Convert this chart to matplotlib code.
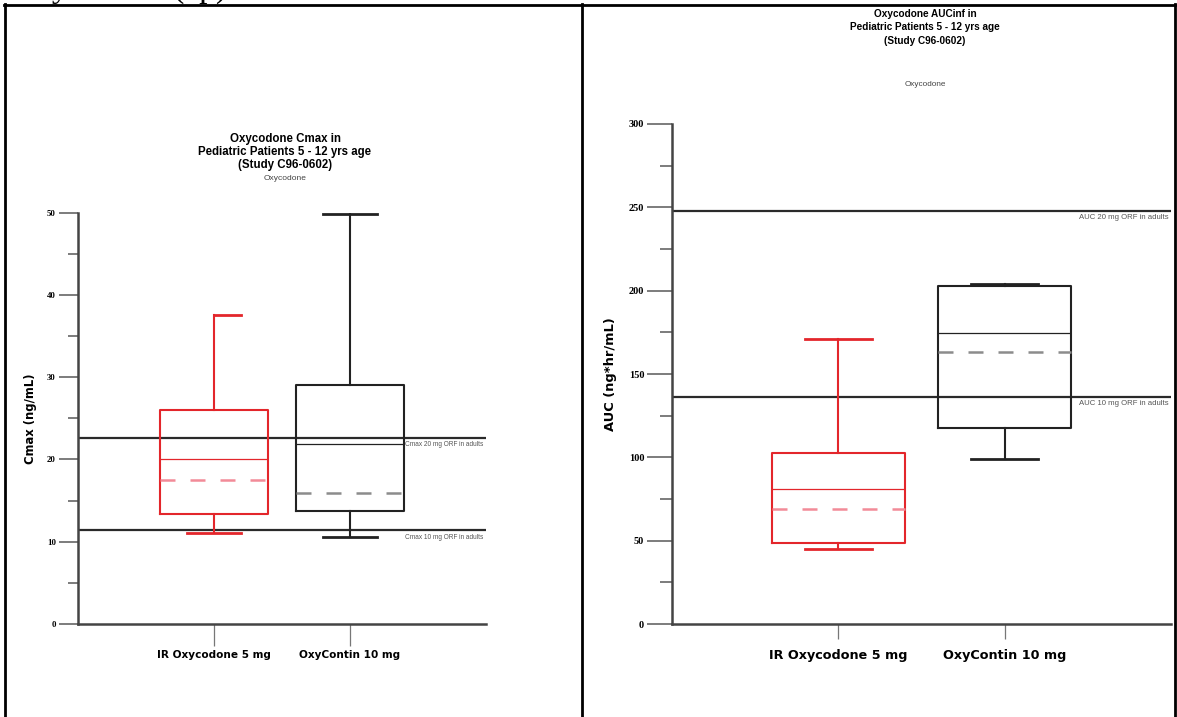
import matplotlib
matplotlib.use('Agg')
import matplotlib.pyplot as plt
from matplotlib.lines import Line2D
from matplotlib.ticker import MultipleLocator

groups = ['IR Oxycodone 5 mg', 'OxyContin 10 mg']
colors = ['#e3262b', '#222222']
mean_colors = ['#f28b98', '#8c8c8c']

# Cmax (ng/mL)
cmax_whislo = [11.0, 10.6]
cmax_q1 = [13.4, 13.7]
cmax_med = [20.1, 21.9]
cmax_mean = [17.5, 15.9]
cmax_q3 = [26.0, 29.0]
cmax_whishi = [37.6, 49.8]
cmax_ref = [22.6, 11.4]
cmax_ref_labels = ['Cmax 20 mg ORF in adults', 'Cmax 10 mg ORF in adults']

# AUCinf (ng*hr/mL)
auc_whislo = [44.8, 98.8]
auc_q1 = [48.8, 117.8]
auc_med = [81.0, 174.5]
auc_mean = [69.0, 163.0]
auc_q3 = [102.4, 203.0]
auc_whishi = [171.0, 203.8]
auc_ref = [247.8, 136.2]
auc_ref_labels = ['AUC 20 mg ORF in adults', 'AUC 10 mg ORF in adults']

W, H = 1177, 717
fig = plt.figure(figsize=(W / 100, H / 100), dpi=100)


def box(x0, y0, x1, y1):
    # pixel box -> figure fraction
    return [x0 / W, 1 - y1 / H, (x1 - x0) / W, (y1 - y0) / H]


def make_stats(lo, q1, med, mean, q3, hi):
    out = []
    for i in range(len(lo)):
        out.append(dict(whislo=lo[i], q1=q1[i], med=med[i], mean=mean[i],
                        q3=q3[i], whishi=hi[i], fliers=[]))
    return out


def panel(ax, stats, ymax, ystep, refs, ref_labels, ylabel, tick_fs, xl_fs,
          yl_fs, ref_fs, lab_x, maj_len, min_len, xt_len, xt_pad):
    bp = ax.bxp(stats, positions=[1, 2], widths=0.8, capwidths=0.4,
                showmeans=True, meanline=True, showfliers=False)
    for i in range(2):
        c = colors[i]
        bp['boxes'][i].set(color=c, linewidth=1.5)
        bp['medians'][i].set(color=c, linewidth=0.9)
        bp['means'][i].set(color=mean_colors[i], linewidth=1.8,
                           linestyle=(0, (6, 6)))
        for w in bp['whiskers'][2 * i:2 * i + 2]:
            w.set(color=c, linewidth=1.5)
        for cp in bp['caps'][2 * i:2 * i + 2]:
            cp.set(color=c, linewidth=2.0)
    for y, lab in zip(refs, ref_labels):
        ax.axhline(y, color='#2a2a2a', linewidth=1.6, zorder=1)
        ax.annotate(lab, xy=(1, y), xycoords=('axes fraction', 'data'),
                    xytext=(-2, -2.5), textcoords='offset points',
                    ha='right', va='top', fontsize=ref_fs, color='#555555',
                    family='Liberation Sans')
    ax.set_xlim(0, 3)
    ax.set_ylim(0, ymax)
    ax.yaxis.set_major_locator(MultipleLocator(ystep))
    ax.yaxis.set_minor_locator(MultipleLocator(ystep / 2))
    ax.set_xticks([1, 2])
    ax.set_xticklabels(groups, fontsize=xl_fs, fontweight='bold',
                       family='DejaVu Sans')
    for t in ax.get_yticklabels():
        t.set_fontsize(tick_fs)
        t.set_fontweight('bold')
        t.set_family('Liberation Serif')
    ax.tick_params(axis='y', which='major', length=maj_len, width=1.2,
                   color='#666666', pad=2)
    ax.tick_params(axis='y', which='minor', length=min_len, width=1.2,
                   color='#666666')
    ax.tick_params(axis='x', length=xt_len, width=0.9, color='#777777',
                   pad=xt_pad)
    for s in ['top', 'right']:
        ax.spines[s].set_visible(False)
    for s in ['left', 'bottom']:
        ax.spines[s].set_color('#444444')
        ax.spines[s].set_linewidth(1.8)
    ax.set_ylabel(ylabel, fontsize=yl_fs, fontweight='bold',
                  family='DejaVu Sans')
    ax.yaxis.set_label_coords(lab_x, 0.5)
    return bp


ax1 = fig.add_axes(box(78, 212.5, 486, 624))
bp1 = panel(ax1, make_stats(cmax_whislo, cmax_q1, cmax_med, cmax_mean,
                            cmax_q3, cmax_whishi),
            50, 10, cmax_ref, cmax_ref_labels, 'Cmax (ng/mL)', 6.3, 7.6, 8.4,
            4.7, -0.1, 14, 7, 16, 3)
# upper cap of the IR box only reaches to the right of the whisker
xs = bp1['caps'][1].get_xdata()
bp1['caps'][1].set_xdata([(xs[0] + xs[1]) / 2, xs[1]])

ax2 = fig.add_axes(box(672, 124, 1171, 624))
panel(ax2, make_stats(auc_whislo, auc_q1, auc_med, auc_mean, auc_q3,
                      auc_whishi),
      300, 50, auc_ref, auc_ref_labels, 'AUC (ng*hr/mL)', 7.5, 9.2, 9.4, 5.6,
      -0.11, 18, 9, 11, 7)

# titles
fig.text(285 / W, 1 - 152 / H,
         'Oxycodone Cmax in\nPediatric Patients 5 - 12 yrs age\n(Study C96-0602)',
         ha='center', va='center', fontsize=8.3, fontweight='bold',
         family='Liberation Sans', linespacing=1.12)
fig.text(285 / W, 1 - 178 / H, 'Oxycodone', ha='center', va='center',
         fontsize=6, color='#444444', family='Liberation Sans')
fig.text(925 / W, 1 - 27.5 / H,
         'Oxycodone AUCinf in\nPediatric Patients 5 - 12 yrs age\n(Study C96-0602)',
         ha='center', va='center', fontsize=7.2, fontweight='bold',
         family='Liberation Sans', linespacing=1.45)
fig.text(925 / W, 1 - 84 / H, 'Oxycodone', ha='center', va='center',
         fontsize=5.9, color='#444444', family='Liberation Sans')

# text of the document above, cut off by the crop
fig.text(11 / W, 1 + 3 / H, 'Oxycodone (cp)', ha='left', va='baseline',
         fontsize=24, family='Liberation Serif')

# table borders
for (xa, ya, xb, yb) in [(4, 4.5, 1175, 4.5), (4.5, 4, 4.5, 717),
                         (581.5, 4, 581.5, 717), (1175, 4, 1175, 717)]:
    fig.add_artist(Line2D([xa / W, xb / W], [1 - ya / H, 1 - yb / H],
                          transform=fig.transFigure, color='black',
                          linewidth=2.0))

fig.savefig('out.png', dpi=100)
